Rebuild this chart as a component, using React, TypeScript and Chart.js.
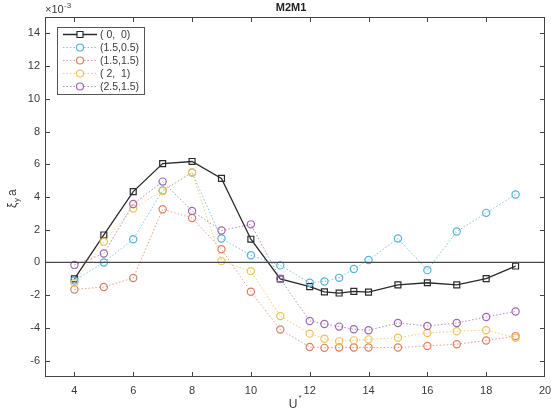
import React, { useEffect, useRef } from "react";
import { Chart, registerables } from "chart.js";

Chart.register(...registerables);

const xValues = [4, 5, 6, 7, 8, 9, 10, 11, 12, 12.5, 13, 13.5, 14, 15, 16, 17, 18, 19];
const seriesLabels = ["( 0,  0)", "(1.5,0.5)", "(1.5,1.5)", "( 2,  1)", "(2.5,1.5)"];
const s00 = [-1.0, 1.68, 4.33, 6.04, 6.17, 5.14, 1.42, -1.0, -1.48, -1.8, -1.87, -1.77, -1.81, -1.37, -1.24, -1.37, -0.99, -0.22];
const s1505 = [-1.1, 0.0, 1.42, 4.4, 5.5, 1.46, 0.44, -0.18, -1.24, -1.16, -0.94, -0.4, 0.15, 1.46, -0.47, 1.89, 3.03, 4.15];
const s1515 = [-1.65, -1.5, -0.95, 3.25, 2.72, 0.81, -1.79, -4.1, -5.17, -5.22, -5.2, -5.2, -5.2, -5.2, -5.1, -5.0, -4.77, -4.5];
const s21 = [-1.25, 1.27, 3.3, 4.37, 5.5, 0.08, -0.53, -3.27, -4.35, -4.66, -4.82, -4.76, -4.7, -4.6, -4.31, -4.2, -4.14, -4.6];
const s2515 = [-0.15, 0.55, 3.57, 4.94, 3.15, 1.95, 2.33, -1.0, -3.58, -3.76, -3.92, -4.08, -4.14, -3.7, -3.88, -3.7, -3.33, -3.0];
const xTicks = [4, 6, 8, 10, 12, 14, 16, 18, 20];
const yTicks = [-6, -4, -2, 0, 2, 4, 6, 8, 10, 12, 14];

const seriesValues = [s00, s1505, s1515, s21, s2515];
const colors = ["#2a2a2a", "#55b2dc", "#dc7f62", "#efc357", "#9d68ad"];
const lineColors = ["#2a2a2a", "rgba(85,178,220,0.75)", "rgba(220,127,98,0.75)", "rgba(239,195,87,0.8)", "rgba(157,104,173,0.75)"];

const FONT = "'Liberation Sans', Arial, sans-serif";
const TEXT = "#3a3a3a";

const decorPlugin = {
  id: "decor",
  afterDatasetsDraw(chart: any) {
    const { ctx, chartArea: a, scales } = chart;
    const ys = scales.y;
    ctx.save();
    const y0 = ys.getPixelForValue(0);
    ctx.strokeStyle = "#4a4a4a";
    ctx.lineWidth = 1.2;
    ctx.beginPath();
    ctx.moveTo(a.left, y0);
    ctx.lineTo(a.right, y0);
    ctx.stroke();
    ctx.restore();
  },
  afterDraw(chart: any) {
    const { ctx, chartArea: a, scales } = chart;
    const xs = scales.x;
    const ys = scales.y;
    ctx.save();
    ctx.strokeStyle = "#444";
    ctx.lineWidth = 1;
    ctx.strokeRect(a.left + 0.5, a.top + 0.5, a.right - a.left - 1, a.bottom - a.top - 1);
    const tl = 5;
    ctx.beginPath();
    xTicks.forEach((v) => {
      const px = Math.round(xs.getPixelForValue(v)) + 0.5;
      if (px > a.right - 1) return;
      ctx.moveTo(px, a.bottom);
      ctx.lineTo(px, a.bottom - tl);
      ctx.moveTo(px, a.top);
      ctx.lineTo(px, a.top + tl);
    });
    yTicks.forEach((v) => {
      const py = Math.round(ys.getPixelForValue(v)) + 0.5;
      ctx.moveTo(a.left, py);
      ctx.lineTo(a.left + tl, py);
      ctx.moveTo(a.right, py);
      ctx.lineTo(a.right - tl, py);
    });
    ctx.stroke();

    ctx.fillStyle = "#222";
    ctx.font = `bold 11px ${FONT}`;
    ctx.textAlign = "center";
    ctx.textBaseline = "middle";
    ctx.fillText("M2M1", (a.left + a.right) / 2 - 4, 8);

    ctx.fillStyle = TEXT;
    ctx.font = `11px ${FONT}`;
    ctx.textAlign = "left";
    ctx.fillText("\u00d710", a.left, 10);
    ctx.font = `8px ${FONT}`;
    ctx.fillText("-3", a.left + 19, 6);

    ctx.font = `12px ${FONT}`;
    ctx.textAlign = "center";
    ctx.fillText("U", (a.left + a.right) / 2 - 2, 405);
    ctx.font = `8px ${FONT}`;
    ctx.fillText("*", (a.left + a.right) / 2 + 5, 398);

    ctx.save();
    ctx.translate(13, 198);
    ctx.rotate(-Math.PI / 2);
    ctx.font = `12px ${FONT}`;
    ctx.textAlign = "left";
    ctx.fillText("\u03be", -10, 0);
    ctx.font = `8px ${FONT}`;
    ctx.fillText("y", -4, 4);
    ctx.font = `12px ${FONT}`;
    ctx.fillText("a", 2, 0);
    ctx.restore();

    const lx = 57, ly = 27, lw = 87, lh = 67;
    ctx.fillStyle = "#fff";
    ctx.fillRect(lx, ly, lw, lh);
    ctx.strokeStyle = "#555";
    ctx.lineWidth = 1;
    ctx.strokeRect(lx + 0.5, ly + 0.5, lw, lh);
    chart.data.datasets.forEach((ds: any, i: number) => {
      const yy = 34.5 + i * 13;
      ctx.strokeStyle = lineColors[i];
      ctx.lineWidth = i === 0 ? 1.3 : 1;
      ctx.setLineDash(i === 0 ? [] : [1.5, 2]);
      ctx.beginPath();
      ctx.moveTo(63, yy);
      ctx.lineTo(97, yy);
      ctx.stroke();
      ctx.setLineDash([]);
      ctx.strokeStyle = colors[i];
      ctx.lineWidth = 1.2;
      ctx.beginPath();
      ctx.fillStyle = "#fff";
      if (i === 0) {
        ctx.rect(77, yy - 3, 6, 6);
      } else {
        ctx.arc(80, yy, 3.5, 0, Math.PI * 2);
      }
      ctx.fill();
      ctx.stroke();
      ctx.fillStyle = TEXT;
      ctx.font = `10.5px ${FONT}`;
      ctx.textAlign = "left";
      ctx.textBaseline = "middle";
      ctx.fillText(ds.label, 100, yy + 0.5);
    });
    ctx.restore();
  },
};

export default function App() {
  const ref = useRef<HTMLCanvasElement | null>(null);
  useEffect(() => {
    document.body.style.margin = "0";
    const canvas = ref.current;
    if (!canvas) return;
    const datasets = seriesValues.map((vals, i) => ({
      label: seriesLabels[i],
      data: xValues.map((x, j) => ({ x, y: vals[j] })),
      borderColor: lineColors[i],
      backgroundColor: "rgba(0,0,0,0)",
      pointBorderColor: colors[i],
      pointBackgroundColor: "rgba(0,0,0,0)",
      borderWidth: i === 0 ? 1.3 : 1,
      borderDash: i === 0 ? [] : [1.5, 2],
      pointStyle: i === 0 ? "rect" : "circle",
      pointRadius: i === 0 ? 4.2 : 3.6,
      pointBorderWidth: 1.2,
      tension: 0,
      fill: false,
      order: seriesValues.length - i,
    }));
    const chart = new Chart(canvas, {
      type: "line",
      data: { datasets },
      options: {
        animation: false,
        responsive: false,
        devicePixelRatio: 1,
        layout: { padding: { top: 17, right: 6, left: 0, bottom: 0 } },
        plugins: { legend: { display: false }, title: { display: false }, tooltip: { enabled: false } },
        scales: {
          x: {
            type: "linear",
            min: 3,
            max: 20,
            afterBuildTicks: (s: any) => {
              s.ticks = xTicks.map((v) => ({ value: v }));
            },
            afterFit: (s: any) => {
              s.height = 37;
              s.paddingLeft = 0;
              s.paddingRight = 0;
            },
            grid: { display: false, drawTicks: false },
            border: { display: false },
            ticks: { color: TEXT, font: { family: FONT, size: 11 }, padding: 7, maxRotation: 0, autoSkip: false },
          },
          y: {
            type: "linear",
            min: -7,
            max: 15,
            afterBuildTicks: (s: any) => {
              s.ticks = yTicks.map((v) => ({ value: v }));
            },
            afterFit: (s: any) => {
              s.width = 45;
              s.paddingTop = 0;
              s.paddingBottom = 0;
            },
            grid: { display: false, drawTicks: false },
            border: { display: false },
            ticks: { color: TEXT, font: { family: FONT, size: 11 }, padding: 5, autoSkip: false },
          },
        },
      },
      plugins: [decorPlugin],
    });
    return () => chart.destroy();
  }, []);
  return <canvas ref={ref} width={551} height={414} style={{ display: "block" }} />;
}
